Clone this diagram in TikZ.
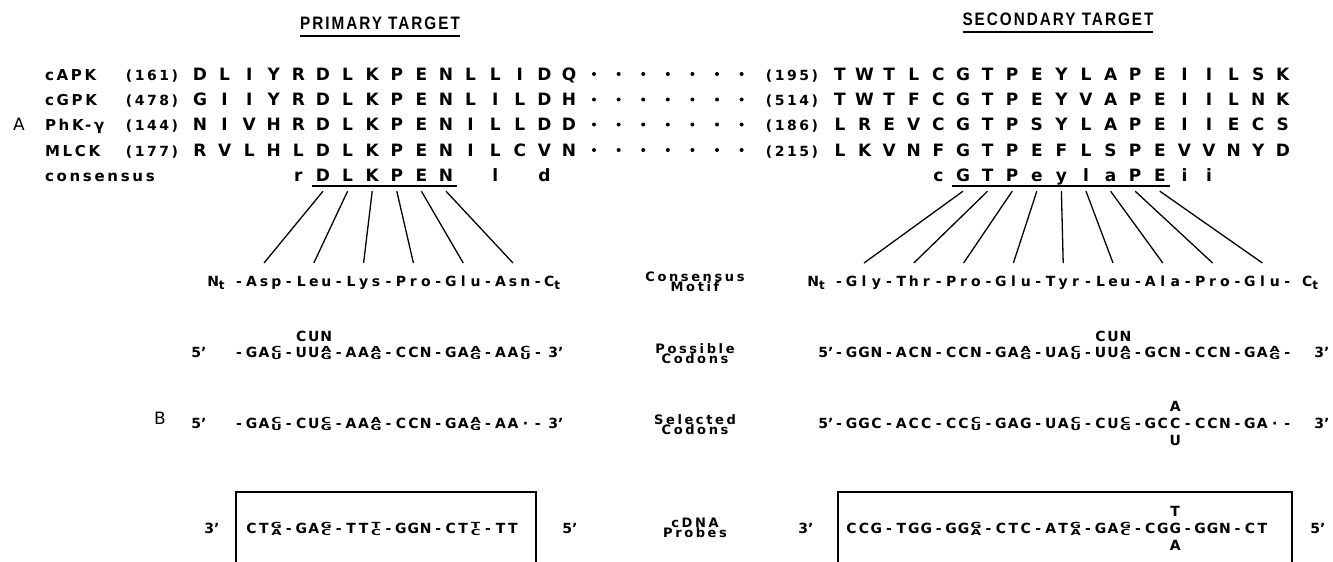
\documentclass[tikz,border=0pt]{standalone}
\usepackage{fontspec}
\usepackage{graphicx}
\setmainfont{DejaVu Sans}
\newfontfamily\lsfont{DejaVu Sans}[LetterSpace=18]
\newfontfamily\lblfont{DejaVu Sans}[LetterSpace=20]
\newfontfamily\ttlfont{Liberation Sans}[FakeStretch=0.85,LetterSpace=11]
\usetikzlibrary{calc}
% two alternative bases squeezed one above the other
\newcommand\stk[2]{\leavevmode\hbox{\ooalign{\hfil\raisebox{0.33em}{\scalebox{0.95}[0.6]{#1}}\hfil\cr\hfil\raisebox{-0.17em}{\scalebox{0.95}[0.6]{#2}}\hfil\cr}}}
\newcommand\sub[1]{\raisebox{-3pt}{\fontsize{12}{12}\selectfont #1}}
% typewriter pitch: every character of a codon string gets the same slot
\newlength\pitch \setlength\pitch{12.45pt}
\def\mwstopm{\mwstop}
\def\mwloop#1{\def\mwarg{#1}\ifx\mwarg\mwstopm\else\makebox[\pitch][c]{#1}\expandafter\mwloop\fi}
\newcommand\mw[1]{\mwloop#1\mwstop}
% same, for a word held in a macro, preceded by a dash
\newcommand\mwd[1]{\expandafter\mwloop\expandafter-#1\mwstop}
% one row of the sequence alignment (#2 = baseline)
\newcommand\seqrow[7]{%
  \node[nm] (name#1) at (45,#2) {#3};
  \node[nb] (nl#1) at (152,#2) {(#4)};
  \foreach \c [count=\i] in {#5} {\node[lt] (l#1-\i) at ({200+(\i-1)*24.6},#2) {\c};}
  \foreach \i in {1,...,7} {\node[dotn] (d#1-\i) at ({594+(\i-1)*24.6},#2-6.2) {};}
  \node[nb] (nr#1) at (792,#2) {(#6)};
  \foreach \c [count=\i] in {#7} {\node[lt] (r#1-\i) at ({840+(\i-1)*24.6},#2) {\c};}
}
\begin{document}
\begin{tikzpicture}[x=1pt,y=-1pt,
  every node/.style={inner sep=0pt,outer sep=0pt},
  lt/.style={font=\fontsize{17}{17}\selectfont\bfseries, anchor=base},
  nm/.style={font=\lsfont\fontsize{15}{15}\selectfont\bfseries, anchor=base west},
  nb/.style={font=\lsfont\fontsize{14}{14}\selectfont\bfseries, anchor=base},
  dotn/.style={circle, fill, minimum size=4pt},
  cod/.style={font=\fontsize{14}{14}\selectfont\bfseries, anchor=base},
  lbl/.style={font=\lblfont\fontsize{13}{13}\selectfont\bfseries, anchor=base},
  ttl/.style={font=\ttlfont\fontsize{18}{18}\selectfont\bfseries, anchor=base},
  panel/.style={font=\fontsize{17}{17}\selectfont, anchor=base},
  fan/.style={line width=1.3pt},
  uline/.style={line width=2pt},
  probebox/.style={line width=1.3pt}]
\fill[white] (0,0) rectangle (1333,562);
\useasboundingbox (0,0) rectangle (1333,562);

% titles
\node[ttl] (t1) at (380,29.5) {PRIMARY TARGET};
\node[ttl] (t2) at (1058,25.5) {SECONDARY TARGET};
\draw[uline] ([yshift=-6pt]t1.base west) -- ([yshift=-6pt]t1.base east);
\draw[uline] ([yshift=-6pt]t2.base west) -- ([yshift=-6pt]t2.base east);

% panel letters
\node[panel] (pA) at (19,130.7) {A};
\node[panel] (pB) at (160,424) {B};

% alignment
\seqrow{1}{80.2}{cAPK}{161}{D,L,I,Y,R,D,L,K,P,E,N,L,L,I,D,Q}{195}{T,W,T,L,C,G,T,P,E,Y,L,A,P,E,I,I,L,S,K}
\seqrow{2}{105.7}{cGPK}{478}{G,I,I,Y,R,D,L,K,P,E,N,L,I,L,D,H}{514}{T,W,T,F,C,G,T,P,E,Y,V,A,P,E,I,I,L,N,K}
\seqrow{3}{130.7}{PhK-γ}{144}{N,I,V,H,R,D,L,K,P,E,N,I,L,L,D,D}{186}{L,R,E,V,C,G,T,P,S,Y,L,A,P,E,I,I,E,C,S}
\seqrow{4}{156.2}{MLCK}{177}{R,V,L,H,L,D,L,K,P,E,N,I,L,C,V,N}{215}{L,K,V,N,F,G,T,P,E,F,L,S,P,E,V,V,N,Y,D}

% consensus
\node[nm] (name5) at (45,181.2) {consensus};
\foreach \c/\i in {r/5,D/6,L/7,K/8,P/9,E/10,N/11,l/13,d/15}
  {\node[lt] (cl\i) at ({200+(\i-1)*24.6},181.2) {\c};}
\foreach \c/\i in {c/5,G/6,T/7,P/8,e/9,y/10,l/11,a/12,P/13,E/14,i/15,i/16}
  {\node[lt] (cr\i) at ({840+(\i-1)*24.6},181.2) {\c};}
\draw[uline] ([xshift=-4pt,yshift=-5pt]cl6.base west) -- ([xshift=4pt,yshift=-5pt]cl11.base east);
\draw[uline] ([xshift=-4pt,yshift=-5pt]cr6.base west) -- ([xshift=4pt,yshift=-5pt]cr14.base east);

% amino acids (each residue carries its leading dash); residue k is centred
% at 264+(k-1)*49.8 on the left and 864+(k-1)*49.8 on the right
\foreach \w [count=\k] in {Asp,Leu,Lys,Pro,Glu}
  {\node[cod] (al\k) at ({264+(\k-1)*49.8-6.225},286.5) {\mwd{\w}};}
\node[cod] (al6) at (264+5*49.8,286.5) {\mw{-Asn-}};
\node[cod] (alN) at (216,286.5) {N\sub{t}};
\node[cod] (alC) at (552,286.5) {C\sub{t}};

\foreach \w [count=\k] in {Gly,Thr,Pro,Glu,Tyr,Leu,Ala,Pro}
  {\node[cod] (ar\k) at ({864+(\k-1)*49.8-6.225},286.5) {\mwd{\w}};}
\node[cod] (ar9) at (864+8*49.8,286.5) {\mw{-Glu-}};
\node[cod] (arN) at (816,286.5) {N\sub{t}};
\node[cod] (arC) at (1310,286.5) {C\sub{t}};

% fans from consensus residues to the motif
\foreach \k in {1,...,5} {
  \pgfmathtruncatemacro\j{\k+5}
  \draw[fan] ([yshift=-10pt]cl\j.base) -- ([xshift=6.225pt,yshift=23.5pt]al\k.base);
}
\draw[fan] ([yshift=-10pt]cl11.base) -- ([yshift=23.5pt]al6.base);
\foreach \k in {1,...,8} {
  \pgfmathtruncatemacro\j{\k+5}
  \draw[fan] ([yshift=-10pt]cr\j.base) -- ([xshift=6.225pt,yshift=23.5pt]ar\k.base);
}
\draw[fan] ([yshift=-10pt]cr14.base) -- ([yshift=23.5pt]ar9.base);

% row labels in the middle
\node[lbl] (m1a) at (695,281) {Consensus};
\node[lbl] (m1b) at (695,291) {Motif};
\node[lbl] (m2a) at (695,353) {Possible};
\node[lbl] (m2b) at (695,363) {Codons};
\node[lbl] (m3a) at (695,424) {Selected};
\node[lbl] (m3b) at (695,434) {Codons};
\node[lbl] (m4a) at (695,527) {cDNA};
\node[lbl] (m4b) at (695,537) {Probes};

% possible codons
\node[cod] (pl5) at (199,357.5) {5’};
\node[cod] (pl3) at (556,357.5) {3’};
\foreach \w [count=\k] in {GA{\stk{C}{U}},UU{\stk{A}{G}},AA{\stk{A}{G}},CCN,GA{\stk{A}{G}}}
  {\node[cod] (pl\k) at ({264+(\k-1)*49.8-6.225},357.5) {\mwd{\w}};}
\node[cod] (pl6) at (264+5*49.8,357.5) {\mw{-AA{\stk{C}{U}}-}};
\node[cod] (plcun) at ([xshift=6.225pt,yshift=16pt]pl2.base) {\mw{CUN}};

\node[cod] (pr5) at (826,357.5) {5’};
\node[cod] (pr3) at (1322,357.5) {3’};
\foreach \w [count=\k] in {GGN,ACN,CCN,GA{\stk{A}{G}},UA{\stk{C}{U}},UU{\stk{A}{G}},GCN,CCN}
  {\node[cod] (pr\k) at ({864+(\k-1)*49.8-6.225},357.5) {\mwd{\w}};}
\node[cod] (pr9) at (864+8*49.8,357.5) {\mw{-GA{\stk{A}{G}}-}};
\node[cod] (prcun) at ([xshift=6.225pt,yshift=16pt]pr6.base) {\mw{CUN}};

% selected codons
\node[cod] (sl5) at (199,428.5) {5’};
\node[cod] (sl3) at (556,428.5) {3’};
\foreach \w [count=\k] in {GA{\stk{C}{U}},CU{\stk{C}{G}},AA{\stk{A}{G}},CCN,GA{\stk{A}{G}}}
  {\node[cod] (sl\k) at ({264+(\k-1)*49.8-6.225},428.5) {\mwd{\w}};}
\node[cod] (sl6) at (264+5*49.8,428.5) {\mw{-AA·-}};

\node[cod] (sr5) at (826,428.5) {5’};
\node[cod] (sr3) at (1322,428.5) {3’};
\foreach \w [count=\k] in {GGC,ACC,CC{\stk{C}{U}},GAG,UA{\stk{C}{U}},CU{\stk{C}{G}},GCC,CCN}
  {\node[cod] (sr\k) at ({864+(\k-1)*49.8-6.225},428.5) {\mwd{\w}};}
\node[cod] (sr9) at (864+8*49.8,428.5) {\mw{-GA·-}};
\node[cod] (srA) at ([xshift=18.675pt,yshift=17pt]sr7.base) {A};
\node[cod] (srU) at ([xshift=18.675pt,yshift=-17pt]sr7.base) {U};

% cDNA probes
\draw[probebox] (236,562) -- (236,492) -- (536,492) -- (536,562);
\node[cod] (bl3) at (212,533.5) {3’};
\node[cod] (bl5) at (570,533.5) {5’};
\node[cod] (bl1) at (264,533.5) {\mw{CT{\stk{G}{A}}}};
\foreach \w [count=\k from 2] in {GA{\stk{G}{C}},TT{\stk{T}{C}},GGN,CT{\stk{T}{C}}}
  {\node[cod] (bl\k) at ({264+(\k-1)*49.8-6.225},533.5) {\mwd{\w}};}
\node[cod] (bl6) at (264+5*49.8-12.45,533.5) {\mw{-TT}};

\draw[probebox] (838,562) -- (838,492) -- (1292,492) -- (1292,562);
\node[cod] (br3) at (806,533.5) {3’};
\node[cod] (br5) at (1318,533.5) {5’};
\node[cod] (br1) at (864,533.5) {\mw{CCG}};
\foreach \w [count=\k from 2] in {TGG,GG{\stk{G}{A}},CTC,AT{\stk{G}{A}},GA{\stk{G}{C}},CGG,GGN}
  {\node[cod] (br\k) at ({864+(\k-1)*49.8-6.225},533.5) {\mwd{\w}};}
\node[cod] (br9) at (864+8*49.8-12.45,533.5) {\mw{-CT}};
\node[cod] (brT) at ([xshift=18.675pt,yshift=17pt]br7.base) {T};
\node[cod] (brA) at ([xshift=18.675pt,yshift=-17pt]br7.base) {A};
\end{tikzpicture}
\end{document}
